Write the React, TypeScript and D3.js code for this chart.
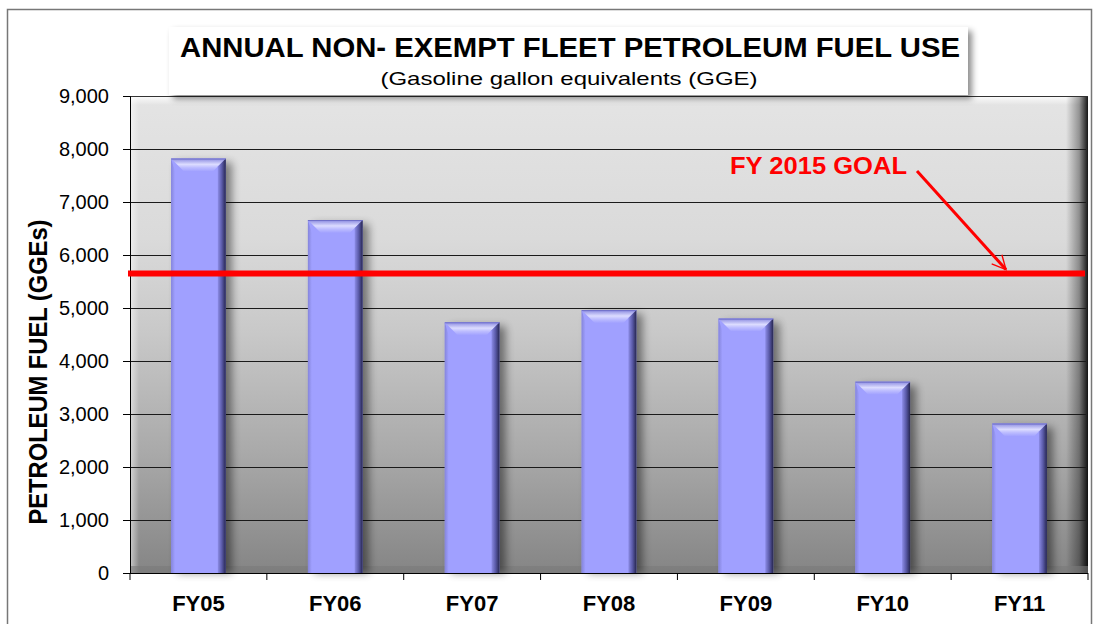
import React, { useEffect, useRef } from "react";
import * as d3 from "d3";

// chart values
const categories = ["FY05", "FY06", "FY07", "FY08", "FY09", "FY10", "FY11"];
const fuelUse = [7820, 6660, 4730, 4960, 4800, 3610, 2820];
const goalValue = 5650;
const yTicks = [0, 1000, 2000, 3000, 4000, 5000, 6000, 7000, 8000, 9000];

const titleText = "ANNUAL NON- EXEMPT FLEET PETROLEUM FUEL USE";
const subtitleText = "(Gasoline gallon equivalents (GGE)";
const yLabel = "PETROLEUM FUEL (GGEs)";
const goalLabel = "FY 2015 GOAL";

const FONT = "'Liberation Sans', Arial, sans-serif";

const App = () => {
  const svgRef = useRef<SVGSVGElement>(null);

  useEffect(() => {
    const svg = d3.select(svgRef.current);
    svg.selectAll("*").remove();

    const W = 1097;
    const H = 624;
    const left = 130;
    const right = 1088;
    const top = 96;
    const bottom = 573;

    const x = d3
      .scaleBand()
      .domain(categories)
      .range([left, right])
      .paddingInner(0.6)
      .paddingOuter(0.3);
    const y = d3.scaleLinear().domain([0, 9000]).range([bottom, top]);

    const defs = svg.append("defs");

    const gradient = (id: string, vertical: boolean, stops: [number, string, number?][]) => {
      const g = defs
        .append("linearGradient")
        .attr("id", id)
        .attr("x1", 0)
        .attr("y1", 0)
        .attr("x2", vertical ? 0 : 1)
        .attr("y2", vertical ? 1 : 0);
      stops.forEach(([o, c, a]) =>
        g
          .append("stop")
          .attr("offset", o)
          .attr("stop-color", c)
          .attr("stop-opacity", a === undefined ? 1 : a)
      );
    };

    // wall
    gradient("wall", true, [
      [0, "#e4e4e4"],
      [0.3, "#dadada"],
      [0.5, "#c8c8c8"],
      [0.75, "#a9a9a9"],
      [1, "#858585"],
    ]);
    gradient("rightEdge", false, [
      [0, "#000", 0],
      [0.6, "#000", 0.35],
      [1, "#000", 0.9],
    ]);
    gradient("leftEdge", false, [
      [0, "#fff", 0.55],
      [1, "#fff", 0],
    ]);
    gradient("topEdge", true, [
      [0, "#fff", 0.9],
      [1, "#fff", 0],
    ]);

    // bars
    gradient("barTop", true, [
      [0, "#8a8ae0"],
      [0.45, "#dcdcff"],
      [0.7, "#bcbcff"],
      [1, "#a0a0ff"],
    ]);
    gradient("barRight", false, [
      [0, "#8c8ce6"],
      [0.5, "#5a5aa8"],
      [1, "#262650"],
    ]);
    gradient("barLeft", false, [
      [0, "#8585dc"],
      [1, "#a0a0ff"],
    ]);

    const blur = defs
      .append("filter")
      .attr("id", "blur")
      .attr("x", "-50%")
      .attr("y", "-50%")
      .attr("width", "200%")
      .attr("height", "200%");
    blur.append("feGaussianBlur").attr("stdDeviation", 4);

    const boxShadow = defs
      .append("filter")
      .attr("id", "boxShadow")
      .attr("x", "-10%")
      .attr("y", "-30%")
      .attr("width", "120%")
      .attr("height", "160%");
    boxShadow
      .append("feDropShadow")
      .attr("dx", 4)
      .attr("dy", 4)
      .attr("stdDeviation", 3)
      .attr("flood-color", "#000")
      .attr("flood-opacity", 0.45);

    const marker = defs
      .append("marker")
      .attr("id", "arrow")
      .attr("viewBox", "0 0 12 12")
      .attr("refX", 11)
      .attr("refY", 6)
      .attr("markerWidth", 5.5)
      .attr("markerHeight", 5.5)
      .attr("markerUnits", "strokeWidth")
      .attr("orient", "auto");
    marker
      .append("path")
      .attr("d", "M1,1 L11,6 L1,11")
      .attr("fill", "none")
      .attr("stroke", "#ff0000")
      .attr("stroke-width", 1);

    svg.attr("width", W).attr("height", H);
    svg.append("rect").attr("width", W).attr("height", H).attr("fill", "#fff");

    // outer frame
    svg
      .append("rect")
      .attr("x", 7.5)
      .attr("y", 9.5)
      .attr("width", 1084)
      .attr("height", 700)
      .attr("fill", "none")
      .attr("stroke", "#777")
      .attr("stroke-width", 1.5);

    // plot wall
    svg
      .append("rect")
      .attr("x", left)
      .attr("y", top)
      .attr("width", right - left)
      .attr("height", bottom - top)
      .attr("fill", "url(#wall)");
    svg
      .append("rect")
      .attr("x", left)
      .attr("y", top)
      .attr("width", 9)
      .attr("height", bottom - top)
      .attr("fill", "url(#leftEdge)");
    svg
      .append("rect")
      .attr("x", left)
      .attr("y", top)
      .attr("width", right - left)
      .attr("height", 9)
      .attr("fill", "url(#topEdge)");
    svg
      .append("rect")
      .attr("x", right - 22)
      .attr("y", top)
      .attr("width", 22)
      .attr("height", bottom - top)
      .attr("fill", "url(#rightEdge)");
    // floor strip
    svg
      .append("rect")
      .attr("x", left)
      .attr("y", bottom - 7)
      .attr("width", right - left)
      .attr("height", 7)
      .attr("fill", "#7a7a7a")
      .attr("opacity", 0.6);
    svg
      .append("line")
      .attr("x1", left)
      .attr("x2", right)
      .attr("y1", top + 0.5)
      .attr("y2", top + 0.5)
      .attr("stroke", "#333")
      .attr("stroke-width", 1);

    // gridlines
    svg
      .append("g")
      .selectAll("line")
      .data(yTicks.filter((d) => d > 0 && d < 9000))
      .enter()
      .append("line")
      .attr("x1", left)
      .attr("x2", right - 2)
      .attr("y1", (d) => Math.round(y(d)) + 0.5)
      .attr("y2", (d) => Math.round(y(d)) + 0.5)
      .attr("stroke", "#1a1a1a")
      .attr("stroke-width", 1);

    // bar shadows
    const bw = x.bandwidth();
    svg
      .append("g")
      .selectAll("rect")
      .data(fuelUse)
      .enter()
      .append("rect")
      .attr("x", (d, i) => (x(categories[i]) as number) + 6)
      .attr("y", (d) => y(d) + 4)
      .attr("width", bw)
      .attr("height", (d) => bottom - y(d) - 4)
      .attr("fill", "#000")
      .attr("opacity", 0.45)
      .attr("filter", "url(#blur)");

    // bevelled bars
    const b = 13;
    const bars = svg
      .append("g")
      .selectAll("g")
      .data(fuelUse)
      .enter()
      .append("g");
    bars
      .append("rect")
      .attr("x", (d, i) => x(categories[i]) as number)
      .attr("y", (d) => y(d))
      .attr("width", bw)
      .attr("height", (d) => bottom - y(d))
      .attr("fill", "#a0a0ff");
    bars
      .append("polygon")
      .attr("points", (d, i) => {
        const x0 = x(categories[i]) as number;
        const yt = y(d);
        return `${x0},${yt} ${x0 + 4},${yt + b} ${x0 + 4},${bottom} ${x0},${bottom}`;
      })
      .attr("fill", "url(#barLeft)");
    bars
      .append("polygon")
      .attr("points", (d, i) => {
        const x0 = x(categories[i]) as number;
        const yt = y(d);
        return `${x0},${yt} ${x0 + bw},${yt} ${x0 + bw - b},${yt + b} ${x0 + b},${yt + b}`;
      })
      .attr("fill", "url(#barTop)");
    bars
      .append("polygon")
      .attr("points", (d, i) => {
        const x0 = x(categories[i]) as number;
        const yt = y(d);
        return `${x0 + bw},${yt} ${x0 + bw},${bottom} ${x0 + bw - 8},${bottom} ${x0 + bw - 8},${yt + 8}`;
      })
      .attr("fill", "url(#barRight)");
    bars
      .append("rect")
      .attr("x", (d, i) => x(categories[i]) as number)
      .attr("y", (d) => y(d))
      .attr("width", bw)
      .attr("height", 1)
      .attr("fill", "#7070c8");

    // y axis
    const yAxis = svg
      .append("g")
      .attr("transform", `translate(${left},0)`)
      .call(
        d3
          .axisLeft(y)
          .tickValues(yTicks)
          .tickSize(7)
          .tickPadding(14)
          .tickFormat(d3.format(","))
      );
    yAxis.select(".domain").attr("stroke", "#000");
    yAxis.selectAll("line").attr("stroke", "#000");
    yAxis
      .selectAll("text")
      .style("font-family", FONT)
      .style("font-size", "20px")
      .attr("fill", "#000");

    // x axis with ticks between categories
    const step = x.step();
    svg
      .append("line")
      .attr("x1", left - 7)
      .attr("x2", right)
      .attr("y1", bottom + 0.5)
      .attr("y2", bottom + 0.5)
      .attr("stroke", "#000");
    svg
      .append("g")
      .selectAll("line")
      .data(d3.range(categories.length + 1))
      .enter()
      .append("line")
      .attr("x1", (i) => left + i * step)
      .attr("x2", (i) => left + i * step)
      .attr("y1", bottom)
      .attr("y2", bottom + 7)
      .attr("stroke", "#000");
    svg
      .append("g")
      .selectAll("text")
      .data(categories)
      .enter()
      .append("text")
      .attr("x", (d) => (x(d) as number) + bw / 2)
      .attr("y", 611)
      .attr("text-anchor", "middle")
      .style("font-family", FONT)
      .style("font-size", "22px")
      .style("font-weight", "bold")
      .text((d) => d);

    // y label
    svg
      .append("text")
      .attr("transform", "translate(47,372) rotate(-90)")
      .attr("text-anchor", "middle")
      .attr("textLength", 305)
      .attr("lengthAdjust", "spacingAndGlyphs")
      .style("font-family", FONT)
      .style("font-size", "25px")
      .style("font-weight", "bold")
      .text(yLabel);

    // goal line and annotation
    svg
      .append("line")
      .attr("x1", left - 2)
      .attr("x2", right - 3)
      .attr("y1", y(goalValue))
      .attr("y2", y(goalValue))
      .attr("stroke", "#ff0000")
      .attr("stroke-width", 6);
    svg
      .append("text")
      .attr("x", 730)
      .attr("y", 174)
      .attr("textLength", 177)
      .attr("lengthAdjust", "spacingAndGlyphs")
      .style("font-family", FONT)
      .style("font-size", "24px")
      .style("font-weight", "bold")
      .attr("fill", "#ff0000")
      .text(goalLabel);
    svg
      .append("line")
      .attr("x1", 917)
      .attr("y1", 171)
      .attr("x2", 1006)
      .attr("y2", y(goalValue) - 4)
      .attr("stroke", "#ff0000")
      .attr("stroke-width", 3)
      .attr("marker-end", "url(#arrow)");

    // title box
    svg
      .append("rect")
      .attr("x", 169)
      .attr("y", 27)
      .attr("width", 799)
      .attr("height", 68)
      .attr("fill", "#fff")
      .attr("filter", "url(#boxShadow)");
    svg
      .append("text")
      .attr("x", 570)
      .attr("y", 57)
      .attr("text-anchor", "middle")
      .attr("textLength", 780)
      .attr("lengthAdjust", "spacingAndGlyphs")
      .style("font-family", FONT)
      .style("font-size", "27px")
      .style("font-weight", "bold")
      .text(titleText);
    svg
      .append("text")
      .attr("x", 569)
      .attr("y", 85)
      .attr("text-anchor", "middle")
      .attr("textLength", 377)
      .attr("lengthAdjust", "spacingAndGlyphs")
      .style("font-family", FONT)
      .style("font-size", "19px")
      .text(subtitleText);
  }, []);

  return (
    <svg
      ref={svgRef}
      width={1097}
      height={624}
      style={{ position: "absolute", left: 0, top: 0 }}
    ></svg>
  );
};

export default App;
